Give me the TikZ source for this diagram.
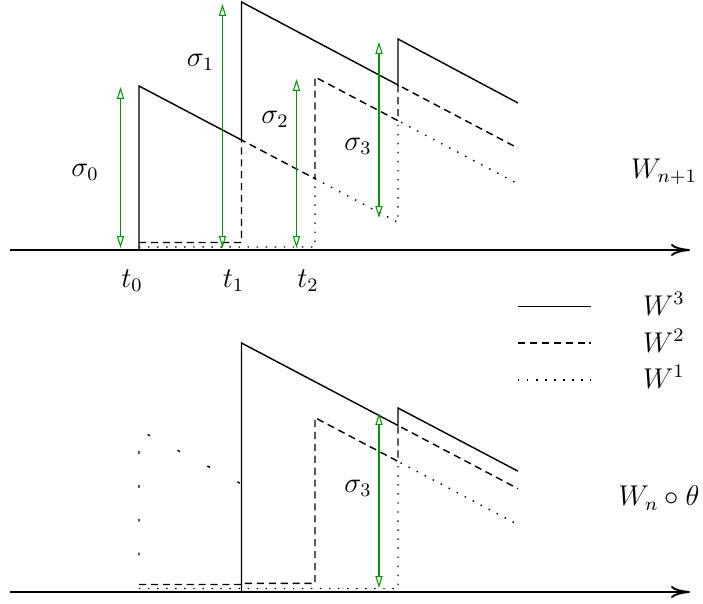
\documentclass[tikz,border=0pt]{standalone}
\usetikzlibrary{arrows.meta}
\definecolor{sgreen}{RGB}{0,150,0}
\begin{document}
\begin{tikzpicture}[x=0.42pt,y=-0.42pt,font=\fontsize{11.5}{13}\selectfont,
  axis/.style={-{To[length=8pt,width=5pt]},line width=0.8pt},
  wthree/.style={line width=0.6pt},
  wtwo/.style={line width=0.6pt,dash pattern=on 3pt off 2pt},
  wone/.style={line width=0.6pt,dash pattern=on 0.6pt off 3.2pt},
  wsparse/.style={line width=0.6pt,dash pattern=on 1.2pt off 13pt},
  jump/.style={{Triangle[open,length=5pt,width=3pt]}-{Triangle[open,length=5pt,width=3pt]},sgreen,line width=0.45pt}]
\useasboundingbox (0,0) rectangle (703,604);
% upper panel
\draw[axis] (10,250) -- (690,250);
\draw[wthree] (139,250) -- (139,86) -- (241.5,140) -- (241.5,2) -- (398,85) -- (398,39) -- (518,103);
\draw[wtwo] (139,242.5) -- (241.5,242.5) -- (241.5,140) -- (315,178.7) -- (315,77) -- (398,120.7) -- (398,85) -- (518,148.2);
\draw[wone] (139,247) -- (315,247) -- (315,178.7) -- (398,222.4) -- (398,120.7) -- (518,183.9);
\draw[jump] (120.5,248) -- (120.5,87);
\draw[jump] (222.5,248) -- (222.5,4);
\draw[jump] (296.5,248) -- (296.5,79);
\draw[jump] (379,218) -- (379,42);
\node (s0) at (85,172) {$\sigma_0$};
\node (s1) at (200.5,62) {$\sigma_1$};
\node (s2) at (275,119) {$\sigma_2$};
\node (s3) at (358,146) {$\sigma_3$};
\node (t0) at (132,281) {$t_0$};
\node (t1) at (233.5,281) {$t_1$};
\node (t2) at (308,281) {$t_2$};
\node (wn1) at (664,172) {$W_{n+1}$};
% legend
\draw[wthree] (518,306.5) -- (591,306.5);
\draw[wtwo] (518,343) -- (591,343);
\draw[wone] (518,380) -- (591,380);
\node (l3) at (664,304) {$W^3$};
\node (l2) at (664,341) {$W^2$};
\node (l1) at (664,377) {$W^1$};
% lower panel
\draw[axis] (10,592) -- (690,592);
\draw[wthree] (241.5,592) -- (241.5,343) -- (398,425.5) -- (398,408) -- (518,471.2);
\draw[wtwo] (139,584.5) -- (241.5,584.5) -- (241.5,583.3) -- (315,583.3) -- (315,417.7) -- (398,461.4) -- (398,425.5) -- (518,488.7);
\draw[wone] (139,588.5) -- (398,588.5) -- (398,461.4) -- (518,524.6);
\draw[wsparse] (139,555.5) -- (139,430) -- (241.5,484);
\draw[jump] (379,588) -- (379,413);
\node (s3b) at (358,488) {$\sigma_3$};
\node (wnt) at (659,498) {$W_n\circ\theta$};
\end{tikzpicture}
\end{document}
